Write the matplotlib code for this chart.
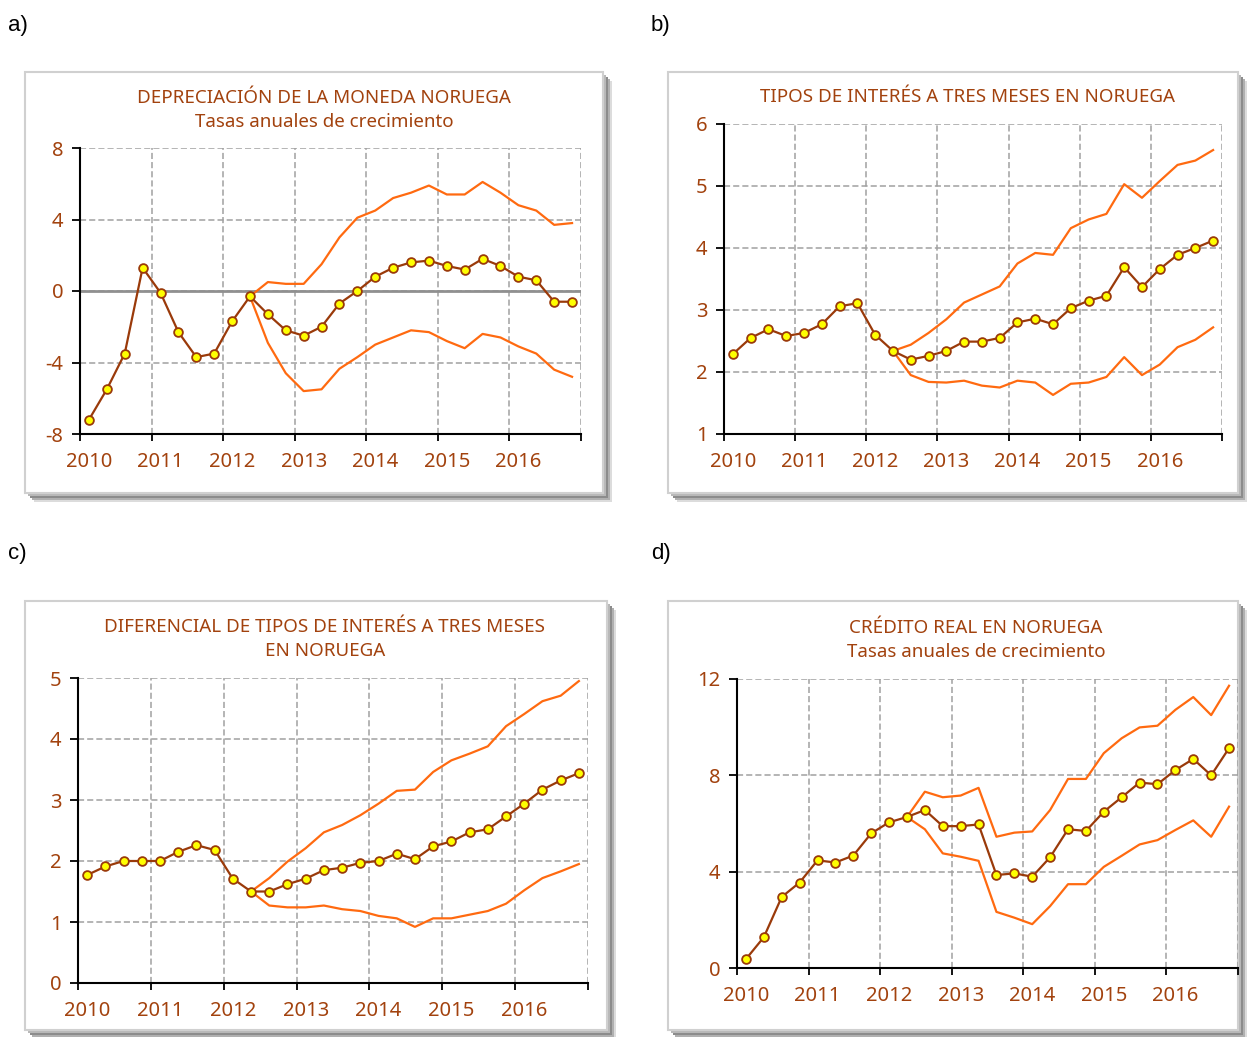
import numpy as np
import matplotlib.pyplot as plt
from matplotlib.patches import Rectangle

# quarters 2010Q1..2016Q4, plotted at the middle of each quarter
x = 2010.125 + 0.25 * np.arange(28)
nan = np.nan

# a) depreciacion de la moneda noruega
a_central = [-7.2, -5.5, -3.5, 1.3, -0.1, -2.3, -3.7, -3.5, -1.7, -0.3,
             -1.3, -2.2, -2.5, -2.0, -0.7, 0.0, 0.8, 1.3, 1.6, 1.7,
             1.4, 1.2, 1.8, 1.4, 0.8, 0.6, -0.6, -0.6]
a_upper = [nan]*9 + [-0.3, 0.5, 0.4, 0.4, 1.5, 3.0, 4.1, 4.5, 5.2, 5.5, 5.9,
                     5.4, 5.4, 6.1, 5.5, 4.8, 4.5, 3.7, 3.8]
a_lower = [nan]*9 + [-0.3, -2.9, -4.6, -5.6, -5.5, -4.35, -3.7, -3.0, -2.6, -2.2, -2.3,
                     -2.8, -3.2, -2.4, -2.6, -3.1, -3.5, -4.4, -4.8]

# b) tipos de interes a tres meses
b_central = [2.29, 2.55, 2.69, 2.58, 2.63, 2.77, 3.06, 3.11, 2.60, 2.34,
             2.20, 2.26, 2.34, 2.49, 2.49, 2.55, 2.80, 2.86, 2.77, 3.03,
             3.15, 3.23, 3.69, 3.37, 3.66, 3.89, 4.00, 4.12]
b_upper = [nan]*9 + [2.34, 2.44, 2.63, 2.85, 3.12, 3.25, 3.38, 3.75, 3.92, 3.89, 4.32,
                     4.46, 4.55, 5.03, 4.81, 5.08, 5.34, 5.41, 5.58]
b_lower = [nan]*9 + [2.34, 1.95, 1.84, 1.83, 1.86, 1.78, 1.75, 1.86, 1.83, 1.63, 1.81,
                     1.83, 1.92, 2.24, 1.95, 2.12, 2.40, 2.52, 2.72]

# c) diferencial de tipos de interes
c_central = [1.77, 1.91, 2.00, 2.00, 2.00, 2.15, 2.26, 2.18, 1.71, 1.50,
             1.50, 1.62, 1.71, 1.85, 1.89, 1.97, 2.00, 2.12, 2.03, 2.24,
             2.32, 2.47, 2.52, 2.73, 2.94, 3.17, 3.32, 3.44]
c_upper = [nan]*9 + [1.50, 1.72, 1.99, 2.21, 2.47, 2.59, 2.75, 2.94, 3.15, 3.17, 3.46,
                     3.65, 3.76, 3.88, 4.21, 4.41, 4.62, 4.71, 4.95]
c_lower = [nan]*9 + [1.50, 1.27, 1.24, 1.24, 1.27, 1.21, 1.18, 1.10, 1.06, 0.92, 1.06,
                     1.06, 1.12, 1.18, 1.30, 1.52, 1.72, 1.83, 1.95]

# d) credito real
d_central = [0.37, 1.28, 2.95, 3.55, 4.47, 4.38, 4.67, 5.59, 6.05, 6.27,
             6.56, 5.89, 5.89, 5.96, 3.86, 3.93, 3.79, 4.60, 5.76, 5.69,
             6.49, 7.09, 7.70, 7.63, 8.22, 8.68, 8.00, 9.13]
d_upper = [nan]*9 + [6.27, 7.32, 7.09, 7.16, 7.48, 5.45, 5.62, 5.67, 6.56, 7.85, 7.85,
                     8.92, 9.54, 9.99, 10.06, 10.72, 11.25, 10.50, 11.72]
d_lower = [nan]*9 + [6.27, 5.76, 4.76, 4.62, 4.45, 2.33, 2.09, 1.82, 2.57, 3.48, 3.48,
                     4.20, 4.66, 5.13, 5.31, 5.73, 6.13, 5.45, 6.70]

years = list(range(2010, 2017))

BROWN_TXT = '#a2420e'
BROWN = '#9a3a0a'
ORANGE = '#ff6a10'
GRID = '#a0a0a0'

W, H = 1247, 1037
fig = plt.figure(figsize=(W/100, H/100), dpi=100)
plt.rcParams['font.family'] = ['Noto Sans', 'DejaVu Sans']


def frame(x0, y0, x1, y1):
    # white box with a grey shadow on the right and bottom
    for off, col in [(9, '#dcdcdc'), (7, '#b0b0b0'), (5, '#8c8c8c'), (3, '#b8b8b8')]:
        fig.patches.append(Rectangle((x0/W + off/W, 1 - (y1 + off)/H), (x1 - x0)/W, (y1 - y0)/H,
                                     transform=fig.transFigure, facecolor=col,
                                     edgecolor='none', zorder=-2))
    fig.patches.append(Rectangle((x0/W, 1 - y1/H), (x1 - x0)/W, (y1 - y0)/H,
                                 transform=fig.transFigure, facecolor='white',
                                 edgecolor='#d0d0d0', linewidth=1.5, zorder=-1))


def panel(box, ylim, yticks, central, upper, lower, title, tx, ty, zero=False):
    l, r, t, b = box
    ax = fig.add_axes([l/W, 1 - b/H, (r - l)/W, (b - t)/H])
    ax.set_zorder(2)
    ax.set_facecolor('none')
    ax.set_xlim(2010, 2017)
    ax.set_ylim(*ylim)
    for yv in yticks:
        ax.axhline(yv, color=GRID, lw=1.1, ls=(0, (4, 2)), zorder=1)
    for xv in range(2011, 2018):
        ax.axvline(xv, color=GRID, lw=1.1, ls=(0, (4, 2)), zorder=1)
    if zero:
        ax.axhline(0, color='#909090', lw=2, zorder=1)
    ax.plot(x, upper, color=ORANGE, lw=1.6, zorder=2)
    ax.plot(x, lower, color=ORANGE, lw=1.6, zorder=2)
    ax.plot(x, central, color=BROWN, lw=1.6, marker='o', markersize=6.3,
            markerfacecolor='#ffff00', markeredgecolor=BROWN, markeredgewidth=1.3, zorder=3)
    ax.set_yticks(yticks)
    ax.set_yticklabels([str(v) for v in yticks])
    ax.set_xticks(range(2010, 2018))
    ax.set_xticklabels([])
    ax.set_xticks([yr + 0.125 for yr in years], minor=True)
    ax.set_xticklabels([str(yr) for yr in years], minor=True)
    ax.tick_params(axis='y', length=6, width=1.3, color='black', labelsize=14.5,
                   labelcolor=BROWN_TXT, pad=6)
    ax.tick_params(axis='x', which='major', length=5, width=1.3, color='black')
    ax.tick_params(axis='x', which='minor', length=0, labelsize=14.5,
                   labelcolor=BROWN_TXT, pad=13)
    for s in ['top', 'right']:
        ax.spines[s].set_visible(False)
    for s in ['left', 'bottom']:
        ax.spines[s].set_color('black')
        ax.spines[s].set_linewidth(1.5)
    for i, line in enumerate(title):
        fig.text(tx/W, 1 - (ty + 24*i)/H, line, ha='center', va='center',
                 color=BROWN_TXT, fontsize=13.5, zorder=3)
    return ax


frame(25, 72, 603, 493)
frame(668, 72, 1238, 493)
frame(25, 601, 607, 1030)
frame(668, 601, 1238, 1030)

panel((80, 581, 148, 434), (-8, 8), [-8, -4, 0, 4, 8], a_central, a_upper, a_lower,
      ['DEPRECIACIÓN DE LA MONEDA NORUEGA', 'Tasas anuales de crecimiento'], 324, 98, zero=True)
panel((724, 1222, 124, 434), (1, 6), [1, 2, 3, 4, 5, 6], b_central, b_upper, b_lower,
      ['TIPOS DE INTERÉS A TRES MESES EN NORUEGA'], 968, 97)
panel((78, 588, 678, 983), (0, 5), [0, 1, 2, 3, 4, 5], c_central, c_upper, c_lower,
      ['DIFERENCIAL DE TIPOS DE INTERÉS A TRES MESES', 'EN NORUEGA'], 325, 627)
panel((737, 1238, 679, 968), (0, 12), [0, 4, 8, 12], d_central, d_upper, d_lower,
      ['CRÉDITO REAL EN NORUEGA', 'Tasas anuales de crecimiento'], 976, 628)

for lab, px, py in [('a)', 8, 25), ('b)', 651, 25), ('c)', 8, 553), ('d)', 651, 553)]:
    fig.text(px/W, 1 - py/H, lab, ha='left', va='center', fontsize=16,
             family=['Liberation Sans', 'DejaVu Sans'], color='black')

fig.savefig('out.png', dpi=100)
